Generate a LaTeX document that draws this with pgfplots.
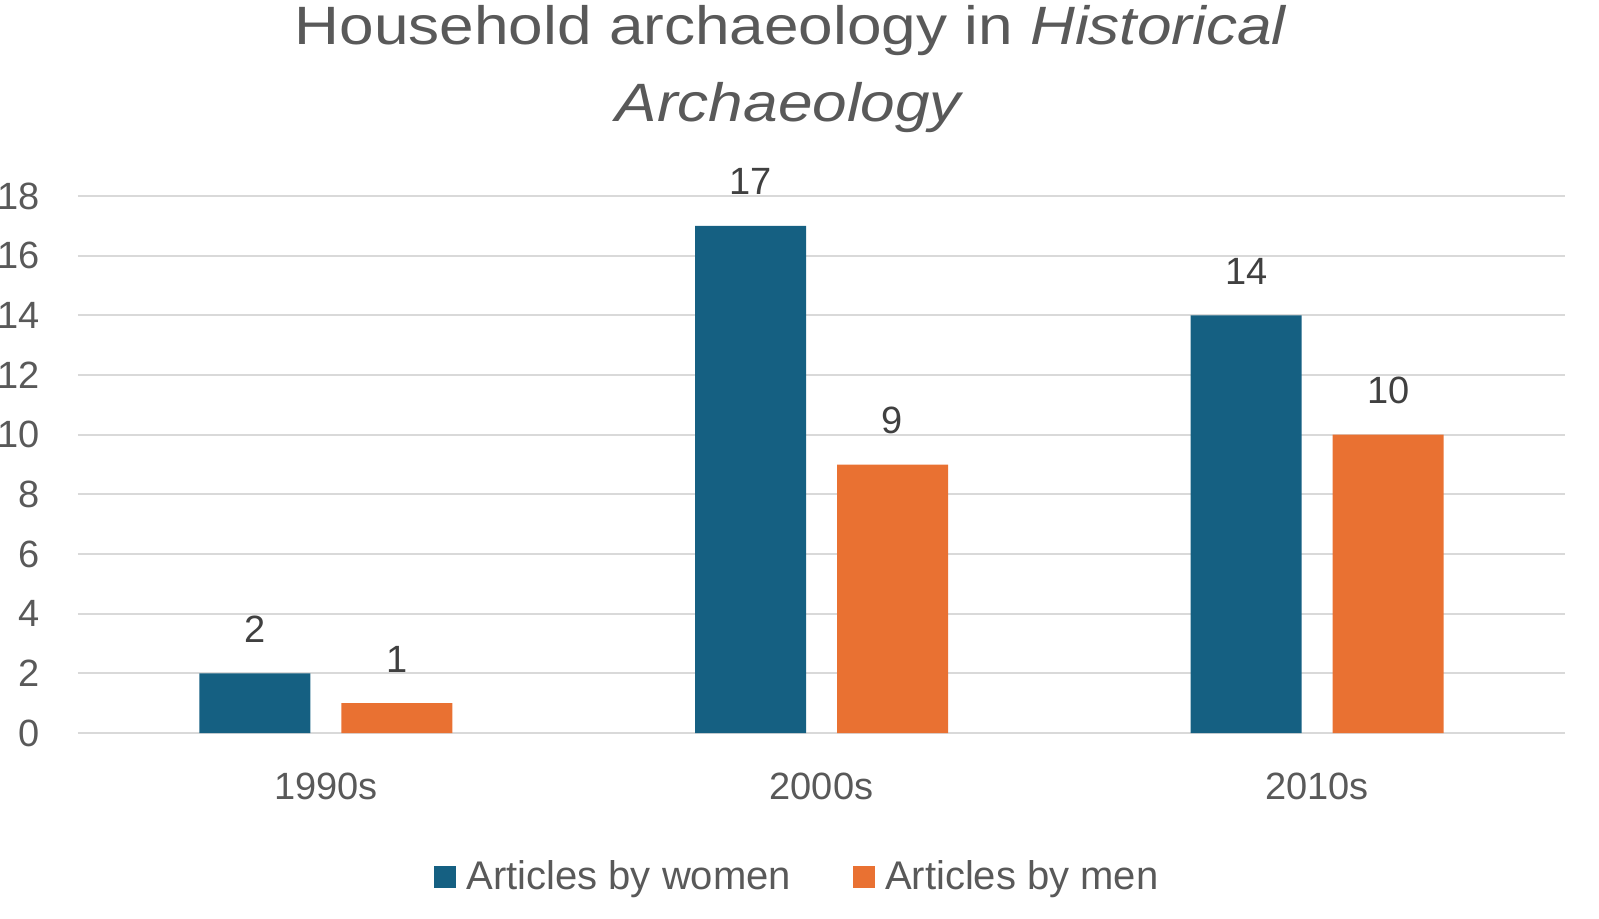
\documentclass[border=0pt]{standalone}
\usepackage{fontspec}
\setmainfont{Liberation Sans}
\newfontfamily\titlefont[FakeStretch=1.15]{Liberation Sans}
\usepackage{pgfplots}
\pgfplotsset{compat=1.18}
\definecolor{women}{HTML}{156082}
\definecolor{men}{HTML}{E97132}
\definecolor{gridc}{HTML}{D9D9D9}
\definecolor{txt}{HTML}{595959}
\definecolor{lbl}{HTML}{404040}
\begin{document}
\begin{tikzpicture}
% title, two lines
\node[anchor=base, text=txt, font=\titlefont\fontsize{27}{34}\selectfont] at (395.5pt,436.5pt) {Household archaeology in \textit{Historical}};
\node[anchor=base, text=txt, font=\titlefont\fontsize{27}{34}\selectfont] at (395pt,398.5pt) {\textit{Archaeology}};
\begin{axis}[
    at={(39pt,92.5pt)}, anchor=south west,
    scale only axis,
    width=743.5pt, height=268.5pt,
    ybar=15.5pt, bar width=55.5pt,
    xmin=-0.5, xmax=2.5,
    ymin=0, ymax=18,
    xtick={0,1,2},
    xticklabels={1990s,2000s,2010s},
    ytick={0,2,...,18},
    ymajorgrids,
    grid style={gridc, line width=1.1pt},
    axis line style={draw=none},
    major tick length=0pt,
    /pgf/number format/assume math mode=true,
    ticklabel style={text=txt, font=\fontsize{19}{23}\selectfont},
    yticklabel style={anchor=east, inner sep=0pt, xshift=-19pt},
    xticklabel style={anchor=center, inner sep=0pt, yshift=-26.5pt},
    nodes near coords,
    every node near coord/.append style={anchor=center, yshift=22pt, text=lbl, font=\fontsize{19}{23}\selectfont},
    legend style={at={(0.4845,-0.268)}, anchor=center, draw=none, fill=none,
        legend columns=2, font=\fontsize{20}{23}\selectfont, text=txt,
        /tikz/every even column/.append style={column sep=29pt},
        inner sep=0pt},
    legend image code/.code={\fill[#1] (0pt,-5.5pt) rectangle (11pt,5.5pt); \path (14pt,0pt);},
    legend cell align=left,
]
\addplot[fill=women, draw=none] coordinates {(0,2) (1,17) (2,14)};
\addplot[fill=men, draw=none] coordinates {(0,1) (1,9) (2,10)};
\legend{Articles by women, Articles by men}
\end{axis}
\pgfresetboundingbox
\path[use as bounding box] (0,0) rectangle (799.5pt,459pt);
\end{tikzpicture}
\end{document}
